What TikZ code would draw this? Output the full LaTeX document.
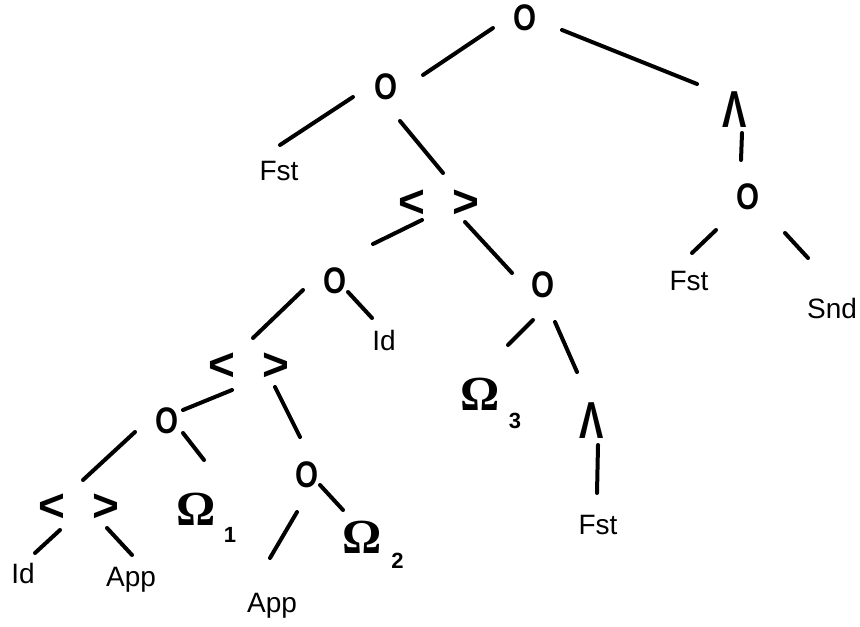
\documentclass[tikz,border=0pt]{standalone}
\usepackage{fontspec}
\usepackage{graphicx}
\setmainfont{Liberation Sans}
\newfontfamily\omegafont{Liberation Serif}
\usetikzlibrary{calc}
\tikzset{
  edge/.style={line width=2pt, line cap=round},
  lbl/.style={anchor=base, inner sep=0pt, font=\fontsize{14}{16}\selectfont},
  comp/.style={inner sep=0pt, font=\fontsize{18.5}{20}\selectfont\bfseries},
  pair/.style={inner sep=0pt, font=\fontsize{23}{28}\selectfont\bfseries},
  lam/.style={inner sep=0pt, font=\fontsize{26}{30}\selectfont\bfseries},
  omg/.style={anchor=base, inner sep=0pt, font=\fontsize{24.5}{28}\selectfont\omegafont\bfseries},
  sub/.style={anchor=base, inner sep=0pt, font=\fontsize{11}{12}\selectfont\bfseries},
}
\newcommand{\pairtext}{<\hspace{14pt}>}
\newcommand{\lamtext}{\scalebox{0.7}[1]{Λ}}
\newcommand{\comptext}{\scalebox{0.8}[1]{O}}
\begin{document}
\begin{tikzpicture}[x=0.5pt,y=-0.5pt]
\useasboundingbox (0,0) rectangle (860,626);
% nodes
\node[comp] (root) at (525,18) {\comptext};
\node[comp] (o2) at (386,87) {\comptext};
\node[lam] (lam1) at (735,110) {\lamtext};
\node[lbl] (fst1) at (279,180) {Fst};
\node[pair] (p1) at (439,204) {\pairtext};
\node[comp] (o5) at (748,197) {\comptext};
\node[lbl] (fst2) at (689,290) {Fst};
\node[lbl] (snd) at (832,318) {Snd};
\node[comp] (o3) at (335,281) {\comptext};
\node[comp] (o4) at (543,285) {\comptext};
\node[lbl] (id1) at (384,350) {Id};
\node[pair] (p2) at (249,367) {\pairtext};
\node[omg] (om3) at (480.5,410) {Ω};
\node[sub] (s3) at (515,428) {3};
\node[lam] (lam2) at (592,421) {\lamtext};
\node[lbl] (fst3) at (598,534) {Fst};
\node[comp] (o6) at (167,421) {\comptext};
\node[comp] (o7) at (307,475) {\comptext};
\node[omg] (om1) at (196,525) {Ω};
\node[sub] (s1) at (230,542) {1};
\node[omg] (om2) at (362.5,553) {Ω};
\node[sub] (s2) at (397.5,568) {2};
\node[pair] (p3) at (79,508) {\pairtext};
\node[lbl] (id2) at (23,583) {Id};
\node[lbl] (app1) at (131,586) {App};
\node[lbl] (app2) at (272,612) {App};
% connectors
\draw[edge] ($(root)+(-32,10)$) -- ($(o2)+(37,-12)$);
\draw[edge] ($(root)+(37,12)$) -- ($(lam1)+(-38,-26)$);
\draw[edge] ($(o2)+(-33,10)$) -- ($(fst1.base)+(1,-35)$);
\draw[edge] ($(o2)+(14,34)$) -- ($(p1)+(4,-31)$);
\draw[edge] ($(lam1)+(7,23)$) -- ($(o5)+(-7,-37)$);
\draw[edge] ($(o5)+(-32,33)$) -- ($(fst2.base)+(3,-37)$);
\draw[edge] ($(o5)+(37,36)$) -- ($(snd.base)+(-24,-60)$);
\draw[edge] ($(p1)+(-17,16)$) -- ($(o3)+(38,-37)$);
\draw[edge] ($(p1)+(26,18)$) -- ($(o4)+(-31,-12)$);
\draw[edge] ($(o3)+(13,11)$) -- ($(id1.base)+(-12,-32)$);
\draw[edge] ($(o3)+(-32,9)$) -- ($(p2)+(4,-29)$);
\draw[edge] ($(o4)+(-10,35)$) -- ($(om3.base)+(27.5,-65)$);
\draw[edge] ($(o4)+(12,37)$) -- ($(lam2)+(-15,-49)$);
\draw[edge] ($(lam2)+(6,24)$) -- ($(fst3.base)+(-1,-41)$);
\draw[edge] ($(p2)+(-17,23)$) -- ($(o6)+(16,-11)$);
\draw[edge] ($(p2)+(26,20)$) -- ($(o7)+(-7,-38)$);
\draw[edge] ($(o6)+(-32,11)$) -- ($(p3)+(4,-28)$);
\draw[edge] ($(o6)+(16,12)$) -- ($(om1.base)+(8,-65)$);
\draw[edge] ($(o7)+(-10,37)$) -- ($(app2.base)+(-2,-54)$);
\draw[edge] ($(o7)+(13,10)$) -- ($(om2.base)+(-19.5,-43)$);
\draw[edge] ($(p3)+(-19,22)$) -- ($(id2.base)+(12,-30)$);
\draw[edge] ($(p3)+(28,20)$) -- ($(app1.base)+(1,-31)$);
\end{tikzpicture}
\end{document}
